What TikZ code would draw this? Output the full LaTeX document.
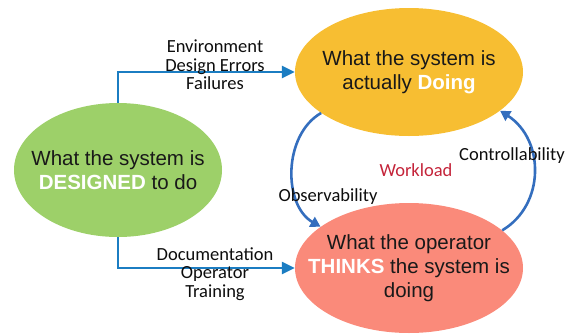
\documentclass[tikz,border=0pt]{standalone}
\usepackage{fontspec}
\setmainfont{Liberation Sans}
\newfontfamily\labelfont{Carlito}
\usetikzlibrary{shapes.geometric,arrows.meta,positioning}
\definecolor{designgreen}{HTML}{9DD069}
\definecolor{doingyellow}{HTML}{F7BE32}
\definecolor{thinksalmon}{HTML}{FA8A7A}
\definecolor{flowblue}{HTML}{1B7DC2}
\definecolor{cycleblue}{HTML}{346EBE}
\definecolor{workred}{HTML}{C4243A}
\tikzset{
    bubble/.style = {ellipse, inner xsep=-40pt, inner ysep=0pt,
        align=center, text=black!90,
        font=\fontsize{20.5}{24}\selectfont},
    note/.style = {align=center, text=black!95,
        font=\labelfont\fontsize{18.5}{18.5}\selectfont},
    arrow/.style = {draw=flowblue, line width=2.4pt,
        -{Triangle[length=13pt,width=12pt]}},
    cyclearrow/.style = {draw=cycleblue, line width=2.6pt,
        -{Triangle[length=10pt,width=11pt]}}
}
\newcommand{\hl}[1]{\textcolor{white}{\textbf{#1}}}

\begin{document}
\begin{tikzpicture}[x=1pt, y=-1pt]
        \useasboundingbox (0,0) rectangle (571,333);
        \node [bubble, fill=designgreen, minimum width=208pt, minimum height=134pt] (designed) at (118,170) {What the system is\\\hl{DESIGNED} to do};
        \node [bubble, fill=doingyellow, minimum width=228pt, minimum height=128pt] (doing) at (409,72) {What the system is\\actually \hl{Doing}};
        \node [bubble, fill=thinksalmon, minimum width=228pt, minimum height=130pt] (thinks) at (409,268) {What the operator\\\hl{THINKS} the system is\\doing};
        \draw [arrow] (designed.north) |- (doing.west);
        \draw [arrow] (designed.south) |- (thinks.west);
        \draw [cyclearrow] (doing.205) .. controls (283,135) and (283,205) .. (thinks.155);
        \draw [cyclearrow] (thinks.22) .. controls (545,205) and (545,140) .. (doing.337);
        \node [note] (causes) at (215,65) {Environment\\Design Errors\\Failures};
        \node [note] (sources) at (215,274) {Documentation\\Operator\\Training};
        \node [note] (observe) at (328,197) {Observability};
        \node [note] (control) at (512,156) {Controllability};
        \node [note, text=workred] (load) at (416,170) {Workload};
        \end{tikzpicture}
\end{document}
